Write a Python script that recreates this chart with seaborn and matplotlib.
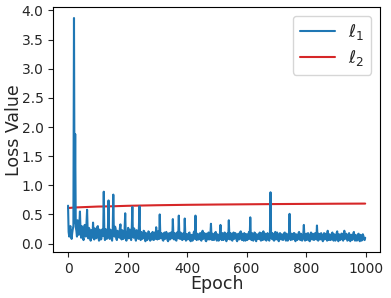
import numpy as np
import pandas as pd
import matplotlib
matplotlib.use("Agg")
import matplotlib.pyplot as plt
import seaborn as sns

# ---- data ----
l1_epochs = list(range(0, 1000, 2))
l1_values = [
    0.65, 0.20, 0.12, 0.26, 0.30, 0.14, 0.08, 0.18, 0.25, 0.30, 3.87, 0.35, 1.88, 0.28, 0.22, 0.12, 0.40, 0.18, 0.15, 0.32,
    0.55, 0.22, 0.10, 0.30, 0.28, 0.11, 0.06, 0.24, 0.32, 0.14, 0.12, 0.35, 0.58, 0.20, 0.09, 0.27, 0.25, 0.12, 0.05, 0.23,
    0.20, 0.10, 0.36, 0.15, 0.07, 0.26, 0.22, 0.09, 0.10, 0.28, 0.30, 0.11, 0.05, 0.24, 0.18, 0.07, 0.08, 0.20, 0.25, 0.13,
    0.89, 0.15, 0.06, 0.25, 0.20, 0.08, 0.10, 0.27, 0.74, 0.12, 0.08, 0.24, 0.22, 0.10, 0.05, 0.21, 0.84, 0.14, 0.12, 0.29,
    0.25, 0.09, 0.06, 0.22, 0.18, 0.12, 0.10, 0.26, 0.33, 0.10, 0.07, 0.23, 0.20, 0.08, 0.12, 0.25, 0.52, 0.13, 0.05, 0.20,
    0.18, 0.27, 0.09, 0.21, 0.24, 0.10, 0.06, 0.25, 0.63, 0.13, 0.10, 0.26, 0.19, 0.09, 0.05, 0.23, 0.22, 0.11, 0.08, 0.28,
    0.64, 0.12, 0.06, 0.20, 0.17, 0.08, 0.10, 0.22, 0.21, 0.09, 0.04, 0.18, 0.15, 0.06, 0.09, 0.21, 0.19, 0.10, 0.05, 0.17,
    0.14, 0.07, 0.20, 0.09, 0.06, 0.19, 0.16, 0.08, 0.28, 0.10, 0.07, 0.21, 0.18, 0.08, 0.50, 0.12, 0.09, 0.18, 0.16, 0.06,
    0.05, 0.17, 0.19, 0.08, 0.10, 0.20, 0.15, 0.06, 0.04, 0.16, 0.18, 0.07, 0.08, 0.19, 0.14, 0.09, 0.42, 0.11, 0.07, 0.18,
    0.17, 0.06, 0.05, 0.18, 0.20, 0.09, 0.48, 0.10, 0.08, 0.19, 0.15, 0.07, 0.06, 0.17, 0.18, 0.08, 0.43, 0.12, 0.05, 0.16,
    0.16, 0.07, 0.09, 0.18, 0.19, 0.06, 0.04, 0.15, 0.14, 0.05, 0.10, 0.19, 0.21, 0.08, 0.48, 0.11, 0.06, 0.17, 0.15, 0.07,
    0.08, 0.17, 0.18, 0.06, 0.05, 0.16, 0.22, 0.08, 0.09, 0.18, 0.16, 0.05, 0.04, 0.17, 0.13, 0.07, 0.19, 0.09, 0.07, 0.15,
    0.34, 0.09, 0.06, 0.17, 0.15, 0.06, 0.10, 0.18, 0.20, 0.07, 0.05, 0.16, 0.14, 0.05, 0.08, 0.17, 0.32, 0.10, 0.06, 0.18,
    0.17, 0.06, 0.09, 0.19, 0.13, 0.07, 0.04, 0.16, 0.18, 0.08, 0.40, 0.10, 0.07, 0.18, 0.15, 0.06, 0.05, 0.17, 0.19, 0.08,
    0.10, 0.18, 0.14, 0.06, 0.04, 0.15, 0.17, 0.07, 0.08, 0.19, 0.21, 0.09, 0.06, 0.17, 0.13, 0.05, 0.18, 0.08, 0.05, 0.16,
    0.16, 0.06, 0.09, 0.17, 0.20, 0.08, 0.45, 0.12, 0.06, 0.18, 0.14, 0.05, 0.10, 0.19, 0.18, 0.07, 0.04, 0.16, 0.15, 0.08,
    0.08, 0.17, 0.19, 0.07, 0.05, 0.18, 0.13, 0.06, 0.21, 0.09, 0.07, 0.17, 0.16, 0.05, 0.09, 0.18, 0.14, 0.07, 0.05, 0.15,
    0.88, 0.12, 0.08, 0.18, 0.17, 0.06, 0.05, 0.16, 0.20, 0.07, 0.09, 0.19, 0.14, 0.06, 0.04, 0.17, 0.18, 0.08, 0.07, 0.16,
    0.15, 0.06, 0.10, 0.18, 0.19, 0.07, 0.05, 0.17, 0.13, 0.05, 0.08, 0.16, 0.51, 0.11, 0.06, 0.17, 0.16, 0.07, 0.09, 0.18,
    0.18, 0.07, 0.04, 0.16, 0.14, 0.06, 0.10, 0.18, 0.20, 0.08, 0.06, 0.17, 0.15, 0.05, 0.08, 0.16, 0.32, 0.09, 0.05, 0.15,
    0.17, 0.06, 0.09, 0.18, 0.13, 0.05, 0.04, 0.16, 0.19, 0.08, 0.07, 0.17, 0.15, 0.06, 0.10, 0.18, 0.12, 0.07, 0.31, 0.09,
    0.05, 0.17, 0.16, 0.07, 0.08, 0.18, 0.14, 0.06, 0.04, 0.15, 0.18, 0.07, 0.09, 0.17, 0.13, 0.05, 0.22, 0.08, 0.06, 0.16,
    0.15, 0.06, 0.08, 0.17, 0.19, 0.07, 0.05, 0.16, 0.12, 0.05, 0.10, 0.18, 0.21, 0.07, 0.04, 0.16, 0.14, 0.06, 0.08, 0.17,
    0.17, 0.07, 0.05, 0.16, 0.22, 0.08, 0.09, 0.17, 0.13, 0.05, 0.06, 0.16, 0.18, 0.07, 0.04, 0.15, 0.15, 0.06, 0.10, 0.17,
    0.20, 0.07, 0.05, 0.15, 0.12, 0.05, 0.08, 0.16, 0.17, 0.06, 0.04, 0.15, 0.14, 0.05, 0.09, 0.16, 0.13, 0.07, 0.06, 0.10,
]
l2_epochs = [0, 25, 50, 100, 150, 200, 300, 400, 500, 600, 700, 800, 900, 998]
l2_values = [0.61, 0.62, 0.625, 0.635, 0.64, 0.648, 0.658, 0.665, 0.67,
             0.674, 0.678, 0.681, 0.684, 0.686]

x_ticks = [0, 200, 400, 600, 800, 1000]
y_ticks = [0.0, 0.5, 1.0, 1.5, 2.0, 2.5, 3.0, 3.5, 4.0]

df1 = pd.DataFrame({"Epoch": l1_epochs, "Loss": l1_values})
df2 = pd.DataFrame({"Epoch": l2_epochs, "Loss": l2_values})

sns.set_style("ticks")
plt.rcParams["font.family"] = ["DejaVu Sans"]

fig = plt.figure(figsize=(3.91, 2.98), dpi=100)
ax = fig.add_axes([0.136, 0.153, 0.836, 0.824])

sns.lineplot(data=df1, x="Epoch", y="Loss", ax=ax, color="#1f77b4",
             linewidth=1.5, label=r"$\ell_1$", zorder=3)
sns.lineplot(data=df2, x="Epoch", y="Loss", ax=ax, color="#d62728",
             linewidth=1.5, label=r"$\ell_2$", zorder=2)

ax.set_xticks(x_ticks)
ax.set_yticks(y_ticks)
ax.tick_params(labelsize=10)
ax.set_xlabel("Epoch", fontsize=12.5, labelpad=-1)
ax.set_ylabel("Loss Value", fontsize=12.5, labelpad=-1)
for s in ax.spines.values():
    s.set_color("black")
    s.set_linewidth(0.8)
ax.legend(loc="upper right", fontsize=12.5, frameon=True, handlelength=2.0,
          labelspacing=0.3)

fig.savefig("out.png", dpi=100)
